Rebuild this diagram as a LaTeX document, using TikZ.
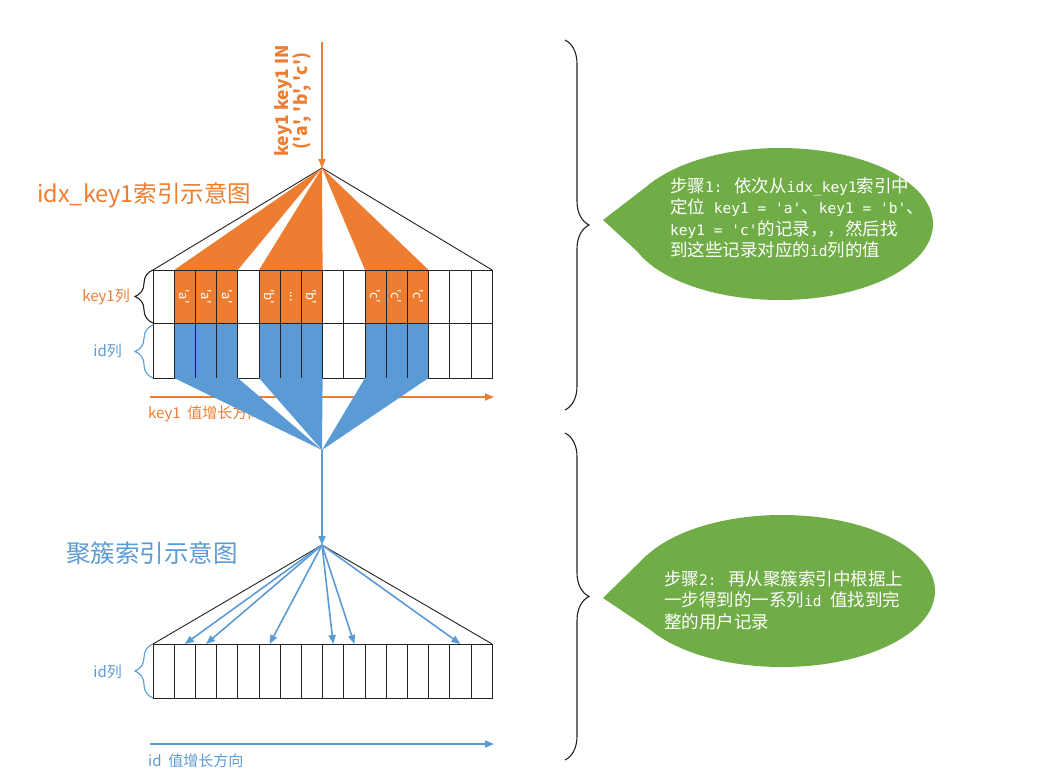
\documentclass[tikz,border=0pt]{standalone}
\usepackage{fontspec}
\setmainfont{Noto Sans CJK SC}[Ligatures=TeXOff]
\newfontfamily\mono{DejaVu Sans Mono}[Scale=0.83]
\usetikzlibrary{arrows.meta,decorations.pathreplacing,shapes.geometric,calc}
\definecolor{org}{HTML}{ED7D31}
\definecolor{blu}{HTML}{5B9BD5}
\definecolor{grn}{HTML}{70AD47}
\definecolor{gridc}{HTML}{222222}
\tikzset{
  cellbox/.style={draw=gridc, line width=0.9pt, minimum width=21.2pt, inner sep=0pt, outer sep=0pt},
  keycell/.style={cellbox, minimum height=53pt},
  idcell/.style={cellbox, minimum height=55pt},
  celltxt/.style={text=white, font=\fontsize{13}{13}\selectfont, rotate=-90, inner sep=0pt},
  fanline/.style={draw=gridc, line width=0.9pt},
  oarrow/.style={draw=org, line width=1.6pt, -{Triangle[length=9pt,width=7pt]}},
  barrow/.style={draw=blu, line width=1.6pt, -{Triangle[length=9pt,width=7pt]}},
  bracestyle/.style={draw=gridc, line width=1.1pt, decorate},
  bubble/.style={ellipse, fill=grn, draw=none, inner sep=0pt},
  bubtxt/.style={text=white, font=\fontsize{17.5}{21.5}\selectfont, align=left, inner sep=0pt, anchor=west},
  title/.style={font=\fontsize{23.5}{26}\selectfont, inner sep=0pt, anchor=west},
  sidelbl/.style={font=\fontsize{15}{17}\selectfont, inner sep=0pt, anchor=east},
  dirlbl/.style={font=\fontsize{15}{17}\selectfont, inner sep=0pt, anchor=west},
}
\begin{document}
\begin{tikzpicture}[x=1pt,y=-1pt]
\useasboundingbox (0,0) rectangle (1043,781);

% ---------- coordinates ----------
\coordinate (topA) at (322,42);
\coordinate (apexA) at (322,168);
\coordinate (apexB) at (322,450);
\coordinate (apexC) at (322,545);
\coordinate (ks) at (150,397);
\coordinate (ke) at (494,397);
\coordinate (is) at (150,744);
\coordinate (ie) at (494,744);

% ---------- upper index: black fan outline ----------
\path (153,270) coordinate (ULt) (492.2,270) coordinate (URt);
\draw[fanline] (ULt) -- (apexA) -- (URt);

% ---------- upper cells ----------
\foreach \i/\c in {0/white,1/org,2/org,3/org,4/white,5/org,6/org,7/org,8/white,9/white,10/org,11/org,12/org,13/white,14/white,15/white}{
  \node[keycell, fill=\c] (k\i) at ({153+(\i+0.5)*21.2},296.5) {};
}
\foreach \i/\c in {0/white,1/blu,2/blu,3/blu,4/white,5/blu,6/blu,7/blu,8/white,9/white,10/blu,11/blu,12/blu,13/white,14/white,15/white}{
  \node[idcell, fill=\c] (i\i) at ({153+(\i+0.5)*21.2},350.5) {};
}

% orange fans
\fill[org] (apexA) -- (k1.north west) -- (k3.north east) -- cycle;
\fill[org] (apexA) -- (k5.north west) -- (k7.north east) -- cycle;
\fill[org] (apexA) -- (k10.north west) -- (k12.north east) -- cycle;

% redraw cell borders on top
\foreach \i in {0,...,15}{
  \draw[draw=gridc, line width=0.9pt] (k\i.north west) rectangle (k\i.south east);
  \draw[draw=gridc, line width=0.9pt] (i\i.north west) rectangle (i\i.south east);
}

% cell labels
\node[celltxt] (la1) at (k1) {'a'};
\node[celltxt] (la2) at (k2) {'a'};
\node[celltxt] (la3) at (k3) {'a'};
\node[celltxt] (lb1) at (k5) {'b'};
\node[celltxt] (lb2) at (k6) {...};
\node[celltxt] (lb3) at (k7) {'b'};
\node[celltxt] (lc1) at (k10) {'c'};
\node[celltxt] (lc2) at (k11) {'c'};
\node[celltxt] (lc3) at (k12) {'c'};

% top arrow and its label
\draw[oarrow] (topA) -- (apexA);
\node[text=org, rotate=90, align=center, inner sep=0pt,
      font=\fontsize{17.5}{17}\selectfont\bfseries] (inlbl) at (293,101)
      {key1 key1 IN\\('a', 'b', 'c')};

% title
\node[title, text=org] (t1) at (37,195) {idx\_key1索引示意图};

% side labels and braces
\node[sidelbl, text=org] (kl) at (130,297) {key1列};
\draw[bracestyle, decoration={brace, amplitude=18pt}] (153,323) -- (153,270);
\node[sidelbl, text=blu] (il) at (122,351) {id列};
\draw[bracestyle, draw=blu, decoration={brace, amplitude=18pt}] (153,378) -- (153,325);

% key1 direction arrow
\draw[oarrow] (ks) -- (ke);
\node[dirlbl, text=org] (kdir) at (148,414) {key1\ \ 值增长方向};

% blue fans to apexB
\fill[blu] (i1.south west) -- (i3.south east) -- (apexB) -- cycle;
\fill[blu] (i5.south west) -- (i7.south east) -- (apexB) -- cycle;
\fill[blu] (i10.south west) -- (i12.south east) -- (apexB) -- cycle;

% blue vertical arrow
\draw[barrow] (apexB) -- (apexC);

% ---------- clustered index ----------
\node[title, text=blu, font=\fontsize{24.5}{26}\selectfont] (t2) at (66,553) {聚簇索引示意图};

\foreach \i in {0,...,15}{
  \node[idcell, minimum height=54pt] (c\i) at ({153+(\i+0.5)*21.2},671) {};
}
\draw[fanline] (c0.north west) -- (apexC) -- (c15.north east);
\foreach \j in {1,2,5,8,9,14}{
  \draw[barrow] (apexC) -- (c\j.north);
}
\node[sidelbl, text=blu] (il2) at (122,672) {id列};
\draw[bracestyle, draw=blu, decoration={brace, amplitude=18pt}] (153,698) -- (153,644);

\draw[barrow] (is) -- (ie);
\node[dirlbl, text=blu] (idir) at (148,761) {id\ \ 值增长方向};

% ---------- right braces ----------
\draw[bracestyle, decoration={brace, amplitude=24pt}] (565,40) -- (565,410);
\draw[bracestyle, decoration={brace, amplitude=24pt}] (565,433) -- (565,760);

% ---------- bubbles ----------
\node[bubble, minimum width=306pt, minimum height=152pt] (b1) at (780,224) {};
\coordinate (tail1) at (603,220);
\fill[grn] (tail1) -- (b1.160) -- (b1.200) -- cycle;
\node[bubtxt] (bt1) at (670,218) {步骤{\mono 1: }依次从{\mono idx\_key1}索引中\\定位{\mono{} key1 = 'a'}、{\mono key1 = 'b'}、\\{\mono key1 = 'c'}的记录，，然后找\\到这些记录对应的{\mono id}列的值};

\node[bubble, minimum width=306pt, minimum height=152pt] (b2) at (782,591) {};
\coordinate (tail2) at (603,598);
\fill[grn] (tail2) -- (b2.165) -- (b2.205) -- cycle;
\node[bubtxt] (bt2) at (664,600) {步骤{\mono 2: }再从聚簇索引中根据上\\一步得到的一系列{\mono id }值找到完\\整的用户记录};

\end{tikzpicture}
\end{document}
